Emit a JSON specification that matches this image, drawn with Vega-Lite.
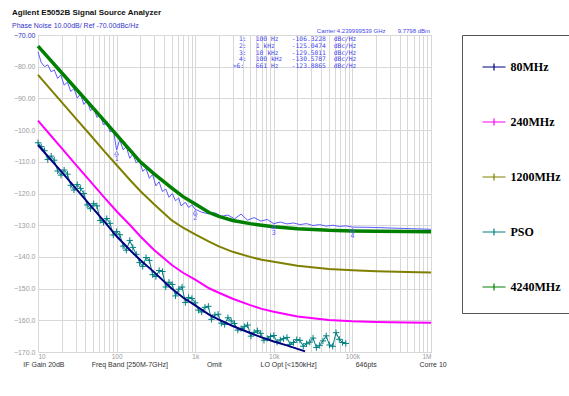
{
  "$schema": "https://vega.github.io/schema/vega-lite/v6.json",
  "width": 393,
  "height": 317,
  "autosize": {"type": "none"},
  "padding": {"left": 38, "top": 35, "right": 138, "bottom": 44},
  "background": "white",
  "title": {
    "text": "Agilent E5052B Signal Source Analyzer",
    "subtitle": "Phase Noise 10.00dB/ Ref -70.00dBc/Hz",
    "anchor": "start",
    "frame": "group",
    "dx": -26,
    "dy": 5,
    "offset": 4,
    "font": "Liberation Sans",
    "fontSize": 8,
    "fontWeight": "bold",
    "color": "#111111",
    "subtitleFont": "Liberation Sans",
    "subtitleFontSize": 7,
    "subtitleColor": "#3333cc",
    "subtitlePadding": 5
  },
  "config": {
    "view": {"stroke": "#9a9a9a", "strokeDash": [2, 2], "strokeWidth": 1}
  },
  "datasets": {
    "curves": [
      {"s": "80MHz", "f": 10, "db": -104.7}, {"s": "80MHz", "f": 15, "db": -109.7}, {"s": "80MHz", "f": 20, "db": -113.2},
      {"s": "80MHz", "f": 30, "db": -118.3}, {"s": "80MHz", "f": 50, "db": -124.7}, {"s": "80MHz", "f": 70, "db": -128.9},
      {"s": "80MHz", "f": 100, "db": -133.5}, {"s": "80MHz", "f": 150, "db": -138.0}, {"s": "80MHz", "f": 200, "db": -141.0},
      {"s": "80MHz", "f": 300, "db": -144.8}, {"s": "80MHz", "f": 500, "db": -150.0}, {"s": "80MHz", "f": 700, "db": -152.8},
      {"s": "80MHz", "f": 1000, "db": -155.3}, {"s": "80MHz", "f": 1500, "db": -158.2}, {"s": "80MHz", "f": 2000, "db": -159.8},
      {"s": "80MHz", "f": 3000, "db": -161.8}, {"s": "80MHz", "f": 5000, "db": -164.0}, {"s": "80MHz", "f": 7000, "db": -165.4},
      {"s": "80MHz", "f": 10000, "db": -166.7}, {"s": "80MHz", "f": 15000, "db": -168.0}, {"s": "80MHz", "f": 20000, "db": -169.0},
      {"s": "80MHz", "f": 25000, "db": -169.8},
      {"s": "240MHz", "f": 10, "db": -97.0}, {"s": "240MHz", "f": 15, "db": -102.1}, {"s": "240MHz", "f": 20, "db": -105.7},
      {"s": "240MHz", "f": 30, "db": -110.8}, {"s": "240MHz", "f": 50, "db": -117.1}, {"s": "240MHz", "f": 70, "db": -121.3},
      {"s": "240MHz", "f": 100, "db": -125.6}, {"s": "240MHz", "f": 150, "db": -130.1}, {"s": "240MHz", "f": 200, "db": -133.5},
      {"s": "240MHz", "f": 300, "db": -137.8}, {"s": "240MHz", "f": 500, "db": -142.5}, {"s": "240MHz", "f": 700, "db": -145.0},
      {"s": "240MHz", "f": 1000, "db": -147.2}, {"s": "240MHz", "f": 1500, "db": -149.9}, {"s": "240MHz", "f": 2000, "db": -151.3},
      {"s": "240MHz", "f": 3000, "db": -153.2}, {"s": "240MHz", "f": 5000, "db": -155.2}, {"s": "240MHz", "f": 7000, "db": -156.4},
      {"s": "240MHz", "f": 10000, "db": -157.3}, {"s": "240MHz", "f": 20000, "db": -158.8}, {"s": "240MHz", "f": 50000, "db": -159.9},
      {"s": "240MHz", "f": 100000, "db": -160.3}, {"s": "240MHz", "f": 200000, "db": -160.5}, {"s": "240MHz", "f": 500000, "db": -160.7},
      {"s": "240MHz", "f": 1000000, "db": -160.8},
      {"s": "1200MHz", "f": 10, "db": -82.6}, {"s": "1200MHz", "f": 15, "db": -87.6}, {"s": "1200MHz", "f": 20, "db": -91.2},
      {"s": "1200MHz", "f": 30, "db": -96.2}, {"s": "1200MHz", "f": 50, "db": -102.5}, {"s": "1200MHz", "f": 70, "db": -106.7},
      {"s": "1200MHz", "f": 100, "db": -111.0}, {"s": "1200MHz", "f": 150, "db": -115.9}, {"s": "1200MHz", "f": 200, "db": -119.2},
      {"s": "1200MHz", "f": 300, "db": -123.4}, {"s": "1200MHz", "f": 500, "db": -128.4}, {"s": "1200MHz", "f": 700, "db": -130.8},
      {"s": "1200MHz", "f": 1000, "db": -132.9}, {"s": "1200MHz", "f": 1500, "db": -135.2}, {"s": "1200MHz", "f": 2000, "db": -136.7},
      {"s": "1200MHz", "f": 3000, "db": -138.4}, {"s": "1200MHz", "f": 5000, "db": -140.0}, {"s": "1200MHz", "f": 7000, "db": -140.9},
      {"s": "1200MHz", "f": 10000, "db": -141.5}, {"s": "1200MHz", "f": 20000, "db": -142.8}, {"s": "1200MHz", "f": 50000, "db": -143.8},
      {"s": "1200MHz", "f": 100000, "db": -144.2}, {"s": "1200MHz", "f": 200000, "db": -144.5}, {"s": "1200MHz", "f": 500000, "db": -144.8},
      {"s": "1200MHz", "f": 1000000, "db": -144.9},
      {"s": "4240MHz", "f": 10, "db": -73.5}, {"s": "4240MHz", "f": 15, "db": -78.4}, {"s": "4240MHz", "f": 20, "db": -81.9},
      {"s": "4240MHz", "f": 30, "db": -86.8}, {"s": "4240MHz", "f": 50, "db": -93.0}, {"s": "4240MHz", "f": 70, "db": -97.1},
      {"s": "4240MHz", "f": 100, "db": -101.5}, {"s": "4240MHz", "f": 150, "db": -106.5}, {"s": "4240MHz", "f": 200, "db": -110.0},
      {"s": "4240MHz", "f": 300, "db": -113.8}, {"s": "4240MHz", "f": 500, "db": -118.2}, {"s": "4240MHz", "f": 700, "db": -121.0},
      {"s": "4240MHz", "f": 1000, "db": -123.3}, {"s": "4240MHz", "f": 1500, "db": -126.0}, {"s": "4240MHz", "f": 2000, "db": -127.2},
      {"s": "4240MHz", "f": 3000, "db": -128.5}, {"s": "4240MHz", "f": 5000, "db": -129.5}, {"s": "4240MHz", "f": 7000, "db": -130.0},
      {"s": "4240MHz", "f": 10000, "db": -130.5}, {"s": "4240MHz", "f": 20000, "db": -131.1}, {"s": "4240MHz", "f": 50000, "db": -131.6},
      {"s": "4240MHz", "f": 100000, "db": -131.8}, {"s": "4240MHz", "f": 200000, "db": -131.9}, {"s": "4240MHz", "f": 500000, "db": -132.0},
      {"s": "4240MHz", "f": 1000000, "db": -132.1}
    ],
    "pso": [
      {"s": "PSO", "f": 10, "db": -104.0}, {"s": "PSO", "f": 11.0, "db": -105.2}, {"s": "PSO", "f": 12.1, "db": -106.5}, {"s": "PSO", "f": 13.3, "db": -109.3},
      {"s": "PSO", "f": 14.7, "db": -108.2}, {"s": "PSO", "f": 16.1, "db": -109.5}, {"s": "PSO", "f": 17.8, "db": -112.9}, {"s": "PSO", "f": 19.6, "db": -114.2},
      {"s": "PSO", "f": 21.5, "db": -112.6}, {"s": "PSO", "f": 23.7, "db": -113.9}, {"s": "PSO", "f": 26.1, "db": -117.4}, {"s": "PSO", "f": 28.7, "db": -118.9},
      {"s": "PSO", "f": 31.6, "db": -117.2}, {"s": "PSO", "f": 34.8, "db": -118.4}, {"s": "PSO", "f": 38.3, "db": -120.0}, {"s": "PSO", "f": 42.2, "db": -123.6},
      {"s": "PSO", "f": 46.4, "db": -124.8}, {"s": "PSO", "f": 51.1, "db": -123.2}, {"s": "PSO", "f": 56.2, "db": -123.9}, {"s": "PSO", "f": 61.9, "db": -128.5},
      {"s": "PSO", "f": 68.1, "db": -129.1}, {"s": "PSO", "f": 75, "db": -127.9}, {"s": "PSO", "f": 82.5, "db": -129.4}, {"s": "PSO", "f": 90.8, "db": -133.1},
      {"s": "PSO", "f": 100, "db": -132.0}, {"s": "PSO", "f": 110, "db": -133.0}, {"s": "PSO", "f": 121, "db": -136.6}, {"s": "PSO", "f": 133, "db": -137.9},
      {"s": "PSO", "f": 147, "db": -134.8}, {"s": "PSO", "f": 161, "db": -137.0}, {"s": "PSO", "f": 178, "db": -139.2}, {"s": "PSO", "f": 196, "db": -141.8},
      {"s": "PSO", "f": 215, "db": -143.0}, {"s": "PSO", "f": 237, "db": -140.2}, {"s": "PSO", "f": 261, "db": -141.1}, {"s": "PSO", "f": 287, "db": -145.6},
      {"s": "PSO", "f": 316, "db": -146.2}, {"s": "PSO", "f": 348, "db": -144.3}, {"s": "PSO", "f": 383, "db": -144.6}, {"s": "PSO", "f": 422, "db": -149.5},
      {"s": "PSO", "f": 464, "db": -148.0}, {"s": "PSO", "f": 511, "db": -148.7}, {"s": "PSO", "f": 562, "db": -152.3}, {"s": "PSO", "f": 619, "db": -150.2},
      {"s": "PSO", "f": 681, "db": -149.5}, {"s": "PSO", "f": 750, "db": -154.4}, {"s": "PSO", "f": 825, "db": -152.8}, {"s": "PSO", "f": 908, "db": -153.1},
      {"s": "PSO", "f": 1000, "db": -154.5}, {"s": "PSO", "f": 1100, "db": -156.8}, {"s": "PSO", "f": 1210, "db": -157.4}, {"s": "PSO", "f": 1330, "db": -155.9},
      {"s": "PSO", "f": 1470, "db": -155.6}, {"s": "PSO", "f": 1610, "db": -159.7}, {"s": "PSO", "f": 1780, "db": -158.3}, {"s": "PSO", "f": 1960, "db": -158.1},
      {"s": "PSO", "f": 2150, "db": -160.9}, {"s": "PSO", "f": 2370, "db": -161.3}, {"s": "PSO", "f": 2610, "db": -159.2}, {"s": "PSO", "f": 2870, "db": -160.2},
      {"s": "PSO", "f": 3160, "db": -161.0}, {"s": "PSO", "f": 3480, "db": -163.1}, {"s": "PSO", "f": 3830, "db": -162.6}, {"s": "PSO", "f": 4220, "db": -162.0},
      {"s": "PSO", "f": 4640, "db": -161.5}, {"s": "PSO", "f": 5110, "db": -165.0}, {"s": "PSO", "f": 5620, "db": -163.8}, {"s": "PSO", "f": 6190, "db": -163.3},
      {"s": "PSO", "f": 6810, "db": -164.1}, {"s": "PSO", "f": 7500, "db": -166.3}, {"s": "PSO", "f": 8250, "db": -165.7}, {"s": "PSO", "f": 9080, "db": -165.1},
      {"s": "PSO", "f": 10000, "db": -164.8}, {"s": "PSO", "f": 11000, "db": -166.9}, {"s": "PSO", "f": 12100, "db": -166.2}, {"s": "PSO", "f": 13300, "db": -165.8},
      {"s": "PSO", "f": 14700, "db": -165.4}, {"s": "PSO", "f": 16100, "db": -167.6}, {"s": "PSO", "f": 17800, "db": -167.0}, {"s": "PSO", "f": 19600, "db": -166.1},
      {"s": "PSO", "f": 21500, "db": -166.3}, {"s": "PSO", "f": 23700, "db": -168.2}, {"s": "PSO", "f": 26100, "db": -167.4}, {"s": "PSO", "f": 28700, "db": -166.9},
      {"s": "PSO", "f": 31600, "db": -165.6}, {"s": "PSO", "f": 34800, "db": -168.6}, {"s": "PSO", "f": 38300, "db": -167.9}, {"s": "PSO", "f": 42200, "db": -166.5},
      {"s": "PSO", "f": 46400, "db": -164.9}, {"s": "PSO", "f": 51100, "db": -167.8}, {"s": "PSO", "f": 56200, "db": -168.2}, {"s": "PSO", "f": 61900, "db": -163.9},
      {"s": "PSO", "f": 68100, "db": -166.0}, {"s": "PSO", "f": 75000, "db": -167.0}, {"s": "PSO", "f": 82500, "db": -167.3}
    ],
    "trace": [
      {"f": 10, "db": -75.3}, {"f": 10.96, "db": -78.6}, {"f": 12.1, "db": -80.0}, {"f": 13.3, "db": -79.4},
      {"f": 14.7, "db": -81.6}, {"f": 16.1, "db": -81.0}, {"f": 17.8, "db": -83.7}, {"f": 19.5, "db": -82.6},
      {"f": 21.5, "db": -85.8}, {"f": 23.7, "db": -84.9}, {"f": 26.1, "db": -87.8}, {"f": 28.7, "db": -86.9},
      {"f": 31.6, "db": -89.9}, {"f": 34.7, "db": -88.6}, {"f": 38.3, "db": -91.9}, {"f": 42.2, "db": -90.6},
      {"f": 46.4, "db": -93.9}, {"f": 51.1, "db": -93.0}, {"f": 56.2, "db": -96.0}, {"f": 61.7, "db": -95.2},
      {"f": 68.1, "db": -98.4}, {"f": 75, "db": -97.3}, {"f": 82.5, "db": -100.6}, {"f": 90.8, "db": -99.8},
      {"f": 100, "db": -106.3}, {"f": 109.6, "db": -103.0}, {"f": 121, "db": -106.2}, {"f": 133, "db": -105.3},
      {"f": 147, "db": -108.9}, {"f": 161, "db": -107.6}, {"f": 178, "db": -110.4}, {"f": 195, "db": -109.3},
      {"f": 215, "db": -113.0}, {"f": 237, "db": -112.1}, {"f": 261, "db": -115.2}, {"f": 287, "db": -114.0},
      {"f": 316, "db": -117.6}, {"f": 347, "db": -116.3}, {"f": 383, "db": -119.4}, {"f": 422, "db": -118.6},
      {"f": 464, "db": -121.2}, {"f": 511, "db": -120.0}, {"f": 562, "db": -122.3}, {"f": 617, "db": -121.4},
      {"f": 661, "db": -123.9}, {"f": 750, "db": -122.8}, {"f": 825, "db": -124.4}, {"f": 908, "db": -123.6},
      {"f": 1000, "db": -125.0}, {"f": 1210, "db": -125.9}, {"f": 1470, "db": -126.4}, {"f": 1780, "db": -126.1},
      {"f": 2150, "db": -127.2}, {"f": 2610, "db": -126.8}, {"f": 3160, "db": -128.0}, {"f": 3830, "db": -126.5},
      {"f": 4640, "db": -128.4}, {"f": 5620, "db": -127.6}, {"f": 6810, "db": -128.7}, {"f": 8250, "db": -128.2},
      {"f": 10000, "db": -129.5}, {"f": 12100, "db": -129.0}, {"f": 14700, "db": -129.6}, {"f": 17800, "db": -129.3},
      {"f": 21500, "db": -129.8}, {"f": 26100, "db": -129.5}, {"f": 31600, "db": -130.1}, {"f": 38300, "db": -129.8},
      {"f": 46400, "db": -130.3}, {"f": 56200, "db": -130.0}, {"f": 68100, "db": -130.4}, {"f": 82500, "db": -130.2},
      {"f": 100000, "db": -130.6}, {"f": 177800, "db": -130.7}, {"f": 316000, "db": -130.9}, {"f": 562000, "db": -131.1},
      {"f": 1000000, "db": -131.3}
    ],
    "mk": [
      {"f": 100, "db": -106.3, "t": "1"},
      {"f": 1000, "db": -125.0, "t": "2"},
      {"f": 10000, "db": -129.5, "t": "3"},
      {"f": 100000, "db": -130.6, "t": "4"}
    ],
    "carrier": [
      {"f": 35300, "db": -68.83, "t": "Carrier 4.239999539 GHz"},
      {"f": 376700, "db": -68.83, "t": "9.7798 dBm"}
    ],
    "ann": [
      {"f": 3614, "db": -71.26, "t": "1:"}, {"f": 5900, "db": -71.26, "t": "100 Hz"}, {"f": 16940, "db": -71.26, "t": "-106.3228"}, {"f": 57700, "db": -71.26, "t": "dBc/Hz"},
      {"f": 3614, "db": -73.38, "t": "2:"}, {"f": 5900, "db": -73.38, "t": "1 kHz"}, {"f": 16940, "db": -73.38, "t": "-125.0474"}, {"f": 57700, "db": -73.38, "t": "dBc/Hz"},
      {"f": 3614, "db": -75.58, "t": "3:"}, {"f": 5900, "db": -75.58, "t": "10 kHz"}, {"f": 16940, "db": -75.58, "t": "-129.5011"}, {"f": 57700, "db": -75.58, "t": "dBc/Hz"},
      {"f": 3614, "db": -77.67, "t": "4:"}, {"f": 5900, "db": -77.67, "t": "100 kHz"}, {"f": 16940, "db": -77.67, "t": "-130.5787"}, {"f": 57700, "db": -77.67, "t": "dBc/Hz"},
      {"f": 3000, "db": -79.87, "t": ">6:"}, {"f": 5900, "db": -79.87, "t": "661 Hz"}, {"f": 16940, "db": -79.87, "t": "-123.8865"}, {"f": 57700, "db": -79.87, "t": "dBc/Hz"}
    ]
  },
  "encoding": {
    "x": {
      "field": "f",
      "type": "quantitative",
      "scale": {"type": "log", "domain": [10, 1000000]},
      "axis": {
        "values": [10, 20, 30, 40, 50, 60, 70, 80, 90, 100, 200, 300, 400, 500, 600, 700, 800, 900, 1000, 2000, 3000, 4000, 5000, 6000, 7000, 8000, 9000, 10000, 20000, 30000, 40000, 50000, 60000, 70000, 80000, 90000, 100000, 200000, 300000, 400000, 500000, 600000, 700000, 800000, 900000, 1000000],
        "labelExpr": "datum.value == 10 ? '10' : datum.value == 100 ? '100' : datum.value == 1000 ? '1k' : datum.value == 10000 ? '10k' : datum.value == 100000 ? '100k' : datum.value == 1000000 ? '1M' : ''",
        "labelOverlap": false,
        "labelFont": "Liberation Sans",
        "labelFontSize": 6.5,
        "labelColor": "#9a9a9a",
        "labelPadding": 1,
        "grid": true,
        "gridColor": "#d8d8d8",
        "gridWidth": 1,
        "ticks": false,
        "domain": false,
        "title": "IF Gain 20dB\u00a0\u00a0\u00a0\u00a0\u00a0\u00a0\u00a0\u00a0\u00a0\u00a0\u00a0\u00a0\u00a0\u00a0Freq Band [250M-7GHz]\u00a0\u00a0\u00a0\u00a0\u00a0\u00a0\u00a0\u00a0\u00a0\u00a0\u00a0\u00a0\u00a0\u00a0\u00a0\u00a0\u00a0\u00a0\u00a0\u00a0Omit\u00a0\u00a0\u00a0\u00a0\u00a0\u00a0\u00a0\u00a0\u00a0\u00a0\u00a0\u00a0\u00a0\u00a0\u00a0\u00a0\u00a0\u00a0\u00a0\u00a0LO Opt [<150kHz]\u00a0\u00a0\u00a0\u00a0\u00a0\u00a0\u00a0\u00a0\u00a0\u00a0\u00a0\u00a0\u00a0\u00a0\u00a0\u00a0\u00a0\u00a0\u00a0\u00a0646pts\u00a0\u00a0\u00a0\u00a0\u00a0\u00a0\u00a0\u00a0\u00a0\u00a0\u00a0\u00a0\u00a0\u00a0\u00a0\u00a0\u00a0\u00a0\u00a0\u00a0\u00a0\u00a0Corre 10",
        "titleFont": "Liberation Sans",
        "titleFontSize": 7,
        "titleFontWeight": "normal",
        "titleColor": "#333333",
        "titlePadding": 1
      }
    },
    "y": {
      "field": "db",
      "type": "quantitative",
      "scale": {"domain": [-170, -70], "nice": false, "zero": false},
      "axis": {
        "values": [-170, -160, -150, -140, -130, -120, -110, -100, -90, -80, -70],
        "labelExpr": "datum.value > -100 ? format(datum.value, '.2f') : format(datum.value, '.1f')",
        "labelFont": "Liberation Sans",
        "labelFontSize": 7,
        "labelColor": {"condition": {"test": "datum.value == -70", "value": "#3333cc"}, "value": "#9a9a9a"},
        "labelPadding": 3,
        "grid": true,
        "gridColor": "#d8d8d8",
        "ticks": false,
        "domain": false,
        "title": null
      }
    }
  },
  "layer": [
    {
      "data": {"name": "pso"},
      "mark": {"type": "line", "strokeWidth": 1},
      "encoding": {
        "color": {
          "field": "s",
          "type": "nominal",
          "scale": {"domain": ["80MHz", "240MHz", "1200MHz", "PSO", "4240MHz"], "range": ["#000080", "#ff00ff", "#808000", "#008080", "#008000"]},
          "legend": {
            "title": null,
            "orient": "none",
            "legendX": 424,
            "legendY": 0,
            "padding": 19.5,
            "rowPadding": 36,
            "symbolType": "M-1,0H1M0,-0.3V0.3",
            "symbolSize": 529,
            "symbolStrokeWidth": 1.2,
            "labelFont": "Liberation Serif",
            "labelFontSize": 12,
            "labelFontWeight": "bold",
            "labelColor": "#000000",
            "labelOffset": 4,
            "labelLimit": 200,
            "fillColor": "#ffffff",
            "strokeColor": "#555555"
          }
        }
      }
    },
    {
      "data": {"name": "pso"},
      "mark": {"type": "point", "shape": "M-1,0H1M0,-1V1", "filled": false, "strokeWidth": 1, "size": 40, "color": "#008080", "opacity": 1}
    },
    {
      "data": {"name": "curves"},
      "transform": [{"filter": "datum.s != '4240MHz'"}],
      "mark": {"type": "line"},
      "encoding": {
        "color": {"field": "s", "type": "nominal"},
        "strokeWidth": {"field": "s", "type": "nominal", "scale": {"domain": ["80MHz", "240MHz", "1200MHz"], "range": [2, 2, 2.6]}, "legend": null}
      }
    },
    {
      "data": {"name": "trace"},
      "mark": {"type": "line", "strokeWidth": 1, "color": "#5c5cff"}
    },
    {
      "data": {"name": "curves"},
      "transform": [{"filter": "datum.s == '4240MHz'"}],
      "mark": {"type": "line", "strokeWidth": 3.5},
      "encoding": {"color": {"field": "s", "type": "nominal"}}
    },
    {
      "data": {"name": "mk"},
      "mark": {"type": "point", "shape": "triangle-up", "filled": false, "size": 18, "strokeWidth": 1, "color": "#5c5cff", "yOffset": 3}
    },
    {
      "data": {"name": "mk"},
      "mark": {"type": "text", "fontSize": 7, "font": "Liberation Sans", "color": "#5c5cff", "dy": 9},
      "encoding": {"text": {"field": "t"}}
    },
    {
      "data": {"name": "carrier"},
      "mark": {"type": "text", "align": "left", "baseline": "middle", "font": "Liberation Sans", "fontSize": 6, "color": "#4444ee"},
      "encoding": {"text": {"field": "t"}}
    },
    {
      "data": {"name": "ann"},
      "mark": {"type": "text", "align": "left", "baseline": "middle", "font": "DejaVu Sans Mono", "fontSize": 6.3, "color": "#4444ee"},
      "encoding": {"text": {"field": "t"}}
    }
  ]
}
